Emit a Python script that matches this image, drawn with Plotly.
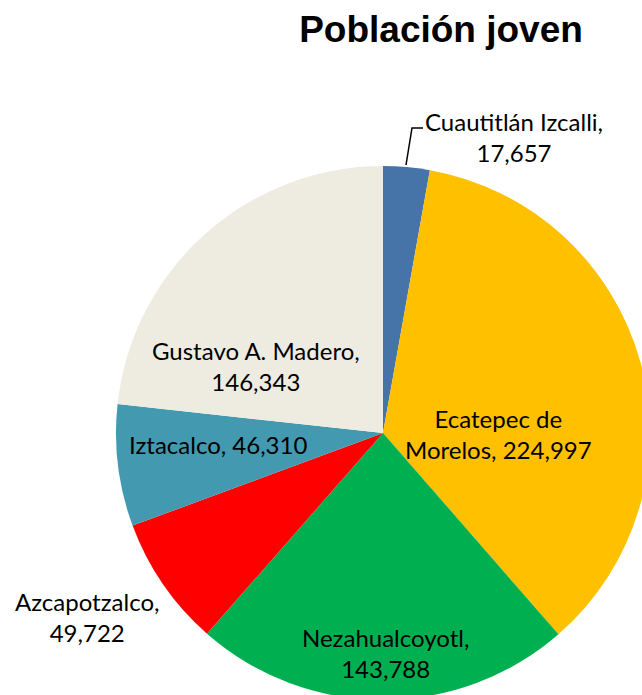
import plotly.graph_objects as go

W, H = 650, 703  # figure slightly larger than the window so the pie is cropped like the reference

categories = ["Cuautitlán Izcalli", "Ecatepec de Morelos", "Nezahualcoyotl",
              "Azcapotzalco", "Iztacalco", "Gustavo A. Madero"]
values = [17657, 224997, 143788, 49722, 46310, 146343]
label_lines = [
    "Cuautitlán Izcalli,<br>17,657",
    "Ecatepec de<br>Morelos, 224,997",
    "Nezahualcoyotl,<br>143,788",
    "Azcapotzalco,<br>49,722",
    "Iztacalco, 46,310",
    "Gustavo A. Madero,<br>146,343",
]
colors = ["#4673A8", "#FFC000", "#00B050", "#FF0000", "#4399B0", "#EEECE1"]

# label centres in screen pixels (layout)
label_px = [(514, 137), (498, 434), (385, 653), (87, 617), (218, 444), (256, 366)]

def px(x, y):
    return x / W, 1 - y / H

fig = go.Figure(go.Pie(
    labels=categories, values=values, sort=False, direction="clockwise",
    rotation=0, marker=dict(colors=colors, line=dict(width=0)),
    textinfo="none", hoverinfo="label+value", showlegend=False,
    domain=dict(x=[116 / W, 1], y=[3 / H, 537 / H]),
))

annotations = []
for txt, (x, y) in zip(label_lines, label_px):
    ax, ay = px(x, y)
    annotations.append(dict(x=ax, y=ay, xref="paper", yref="paper", text=txt,
                            showarrow=False, xanchor="center", yanchor="middle",
                            font=dict(family="Lato", size=24, color="#000000"),
                            align="center"))

x0, y0 = px(406, 165)
x1, y1 = px(412, 128)
x2, y2 = px(423, 128)
fig.add_shape(type="path", xref="paper", yref="paper",
              path=f"M {x0} {y0} L {x1} {y1} L {x2} {y2}",
              line=dict(color="#000000", width=1.5))

fig.update_layout(
    width=W, height=H, margin=dict(l=0, r=0, t=0, b=0),
    paper_bgcolor="white", plot_bgcolor="white",
    title=dict(text="<b>Población joven</b>", x=441 / W, xanchor="center",
               y=1 - 29 / H, yanchor="middle",
               font=dict(family="Liberation Sans", size=37, color="#000000")),
    annotations=annotations,
)

fig.write_html(
    "out.html",
    config={"displayModeBar": False},
    post_script="document.documentElement.style.overflow='hidden';"
                "document.body.style.overflow='hidden';"
                "document.body.style.margin='0';",
)
